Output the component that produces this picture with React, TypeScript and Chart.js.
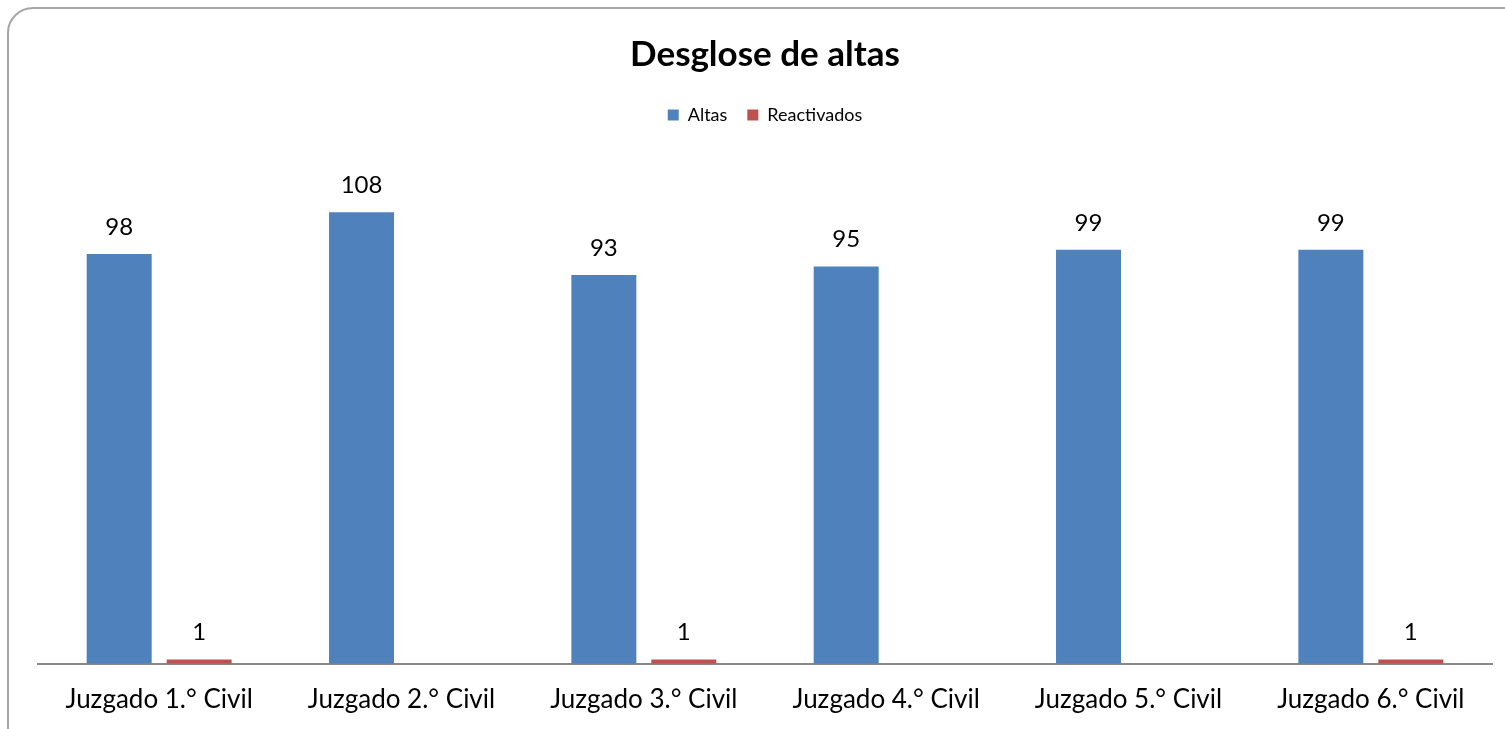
import React, { useEffect, useRef } from "react";
import { Chart, registerables } from "chart.js";

Chart.register(...registerables);

const categories = [
  "Juzgado 1.° Civil",
  "Juzgado 2.° Civil",
  "Juzgado 3.° Civil",
  "Juzgado 4.° Civil",
  "Juzgado 5.° Civil",
  "Juzgado 6.° Civil",
];
const altas = [98, 108, 93, 95, 99, 99];
const reactivados = [1, 0, 1, 0, 0, 1];
const chartTitle = "Desglose de altas";

const FONT = "Lato, 'Open Sans', sans-serif";

const dataLabels = {
  id: "dataLabels",
  afterDatasetsDraw(chart: any) {
    const ctx = chart.ctx;
    ctx.save();
    ctx.font = `24px ${FONT}`;
    ctx.fillStyle = "#000000";
    ctx.textAlign = "center";
    ctx.textBaseline = "middle";
    chart.data.datasets.forEach((ds: any, i: number) => {
      const meta = chart.getDatasetMeta(i);
      meta.data.forEach((el: any, j: number) => {
        const v = ds.data[j];
        if (!v) return;
        ctx.fillText(String(v), el.x, el.y - 27);
      });
    });
    ctx.restore();
  },
};

const legendMargin = {
  id: "legendMargin",
  beforeInit(chart: any) {
    const legend = chart.legend;
    if (!legend) return;
    const origFit = legend.fit;
    legend.fit = function () {
      origFit.call(this);
      this.height += 28;
    };
  },
};

export default function App() {
  const ref = useRef<HTMLCanvasElement>(null);
  useEffect(() => {
    if (!ref.current) return;
    const chart = new Chart(ref.current, {
      type: "bar",
      data: {
        labels: categories,
        datasets: [
          {
            label: "Altas",
            data: altas,
            backgroundColor: "#4F81BD",
            categoryPercentage: 0.66,
            barPercentage: 0.8125,
          },
          {
            label: "Reactivados",
            data: reactivados,
            backgroundColor: "#C0504D",
            categoryPercentage: 0.66,
            barPercentage: 0.8125,
          },
        ],
      },
      options: {
        animation: false,
        responsive: false,
        maintainAspectRatio: false,
        layout: { padding: { left: 38, right: 13, top: 0, bottom: 25 } },
        plugins: {
          title: {
            display: true,
            text: chartTitle,
            color: "#000000",
            font: { family: FONT, size: 35, weight: "bold" },
            padding: { top: 34, bottom: 10 },
          },
          legend: {
            display: true,
            position: "top",
            labels: {
              boxWidth: 11,
              boxHeight: 11,
              padding: 20,
              color: "#000000",
              font: { family: FONT, size: 18 },
            },
          },
          tooltip: { enabled: false },
        },
        scales: {
          x: {
            grid: { display: false, drawTicks: false },
            border: { display: true, color: "#888888", width: 2 },
            ticks: {
              color: "#000000",
              font: { family: FONT, size: 26 },
              padding: 20,
              maxRotation: 0,
            },
          },
          y: {
            display: false,
            min: 0,
            max: 120,
          },
        },
      },
      plugins: [dataLabels, legendMargin],
    });
    return () => chart.destroy();
  }, []);

  return (
    <div style={{ position: "fixed", left: 0, top: 0, width: 1505, height: 729, overflow: "hidden", background: "#ffffff" }}>
      <div
        style={{
          position: "absolute",
          left: 7,
          top: 7,
          width: 1540,
          height: 760,
          border: "2px solid #a6a6a6",
          borderRadius: 26,
          boxSizing: "border-box",
        }}
      />
      <canvas ref={ref} width={1505} height={760} style={{ position: "absolute", left: 0, top: 0 }} />
    </div>
  );
}
